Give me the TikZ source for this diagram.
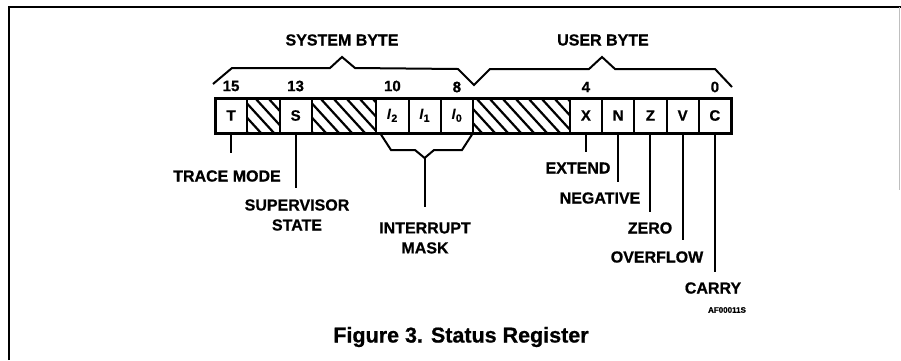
\documentclass[tikz,border=0pt]{standalone}
\usepackage{fontspec}
\setmainfont{Liberation Sans}[BoldFeatures={FakeBold=0.8}]
\begin{document}
\begin{tikzpicture}[x=1pt,y=-1pt,
 lbl/.style={font=\fontsize{16}{20}\selectfont\bfseries, inner sep=0pt, align=center},
 num/.style={font=\fontsize{15}{17}\selectfont\bfseries, inner sep=0pt},
 cell/.style={draw, line width=2pt, minimum width=32.25pt, minimum height=35pt, inner sep=0pt, font=\fontsize{15}{17}\selectfont\bfseries},
 lead/.style={line width=2.2pt},
 brace/.style={line width=2pt, line join=miter},
 hatch/.style={line width=2.2pt}]
\useasboundingbox (0,0) rectangle (901,360);
% frame
\draw[line width=2.2pt] (9,360) -- (9,7) -- (901,7);
\draw[black!25, line width=0.6pt] (899.5,7) -- (899.5,190);
% hatching
\begin{scope}
\clip (247.25,98) rectangle (279.5,133) (311.75,98) rectangle (376.25,133) (473,98) rectangle (569.75,133);
\foreach \i in {0,...,32} \draw[hatch] (190+\i*13,98) -- (222+\i*13,133);
\end{scope}
% cells
\node[cell] (c15) at (231.125,115.5) {T};
\node[cell] (c13) at (295.625,115.5) {S};
\node[cell] (c10) at (392.375,115.5) {\textit{I}\textsubscript{2}};
\node[cell] (c9)  at (424.625,115.5) {\textit{I}\textsubscript{1}};
\node[cell] (c8)  at (456.875,115.5) {\textit{I}\textsubscript{0}};
\node[cell] (c4)  at (585.875,115.5) {X};
\node[cell] (c3)  at (618.125,115.5) {N};
\node[cell] (c2)  at (650.375,115.5) {Z};
\node[cell] (c1)  at (682.625,115.5) {V};
\node[cell] (c0)  at (714.875,115.5) {C};
\draw[line width=3pt] (215,98) rectangle (731,133);
% bit numbers
\node[num] (n15) at (231.1,86) {15};
\node[num] (n13) at (295.6,86) {13};
\node[num] (n10) at (392.4,86) {10};
\node[num] (n8)  at (456.9,87) {8};
\node[num] (n4)  at (585.9,87) {4};
\node[num] (n0)  at (714.9,87) {0};
% byte braces
\node[lbl] (sys) at (342,40) {SYSTEM BYTE};
\node[lbl] (usr) at (603,40) {USER BYTE};
\coordinate (b0) at (213,84);
\coordinate (b1) at (232,68);
\coordinate (b2) at (330,68);
\coordinate (b3) at (342,57);
\coordinate (b4) at (355,68);
\coordinate (b5) at (458,69);
\coordinate (b6) at (474,85);
\coordinate (b7) at (490,69);
\coordinate (b8) at (589,69);
\coordinate (b9) at (602,57);
\coordinate (b10) at (615,69);
\coordinate (b11) at (715,69);
\coordinate (b12) at (732,87);
\draw[brace] (b0) -- (b1) -- (b2) -- (b3) -- (b4) -- (b5) -- (b6) -- (b7) -- (b8) -- (b9) -- (b10) -- (b11) -- (b12);
% bottom labels
\coordinate (eT) at (231.125,153);
\coordinate (eS) at (295.625,188);
\coordinate (eX) at (585.875,152);
\coordinate (eN) at (618.125,182);
\coordinate (eZ) at (650.375,212);
\coordinate (eV) at (682.625,240);
\coordinate (eC) at (714.875,272);
\draw[lead] (c15.south) -- (eT);
\draw[lead] (c13.south) -- (eS);
\draw[lead] (c4.south) -- (eX);
\draw[lead] (c3.south) -- (eN);
\draw[lead] (c2.south) -- (eZ);
\draw[lead] (c1.south) -- (eV);
\draw[lead] (c0.south) -- (eC);
\node[lbl] (lT) at (227,176) {TRACE MODE};
\node[lbl] (lS) at (297,215) {SUPERVISOR\\STATE};
\node[lbl] (lI) at (425,238) {INTERRUPT\\MASK};
\node[lbl] (lX) at (578,168) {EXTEND};
\node[lbl] (lN) at (600,198) {NEGATIVE};
\node[lbl] (lZ) at (650,228) {ZERO};
\node[lbl] (lV) at (657,257) {OVERFLOW};
\node[lbl] (lC) at (713,288) {CARRY};
% interrupt bracket
\coordinate (i0) at (380,133);
\coordinate (i1) at (391,150);
\coordinate (i2) at (415,150);
\coordinate (i3) at (424.625,158);
\coordinate (i4) at (434,150);
\coordinate (i5) at (462,150);
\coordinate (i6) at (473,133);
\coordinate (i7) at (424.625,207);
\draw[brace] (i0) -- (i1) -- (i2) -- (i3) -- (i4) -- (i5) -- (i6);
\draw[lead] (i3) -- (i7);
% id and caption
\node[font=\fontsize{8}{10}\selectfont\bfseries, inner sep=0pt] (id) at (727,310) {AF00011S};
\node[font=\fontsize{21.5}{24}\selectfont\bfseries, inner sep=0pt] (cap) at (461,337) {Figure 3. Status Register};
\end{tikzpicture}
\end{document}
